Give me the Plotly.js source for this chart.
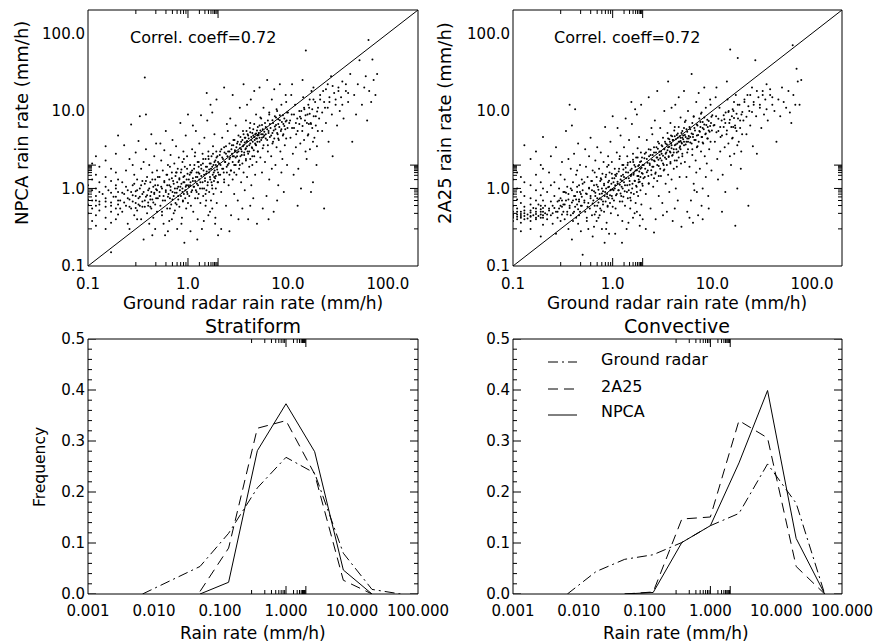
<!DOCTYPE html>
<html>
<head>
<meta charset="utf-8">
<script src="https://cdn.plot.ly/plotly-3.0.1.min.js"></script>
<style>html,body{margin:0;padding:0;background:#fff;}#chart{width:876px;height:643px;}</style>
</head>
<body>
<div id="chart"></div>
<script>
// ---------- Data ----------
// Scatter: [ground radar rain rate, NPCA rain rate] (mm/h)
const npcaPairs = [
[0.10,0.62],[0.10,0.85],[0.10,1.1],[0.10,0.48],[0.10,1.6],[0.10,0.72],
[0.11,0.55],[0.11,0.95],[0.11,1.3],[0.11,0.38],[0.11,2.1],[0.11,0.7],
[0.12,0.6],[0.12,0.8],[0.12,1.0],[0.12,1.5],[0.12,0.45],[0.12,2.6],[0.12,0.33],
[0.13,0.52],[0.13,0.9],[0.13,1.2],[0.13,0.68],[0.13,1.9],
[0.15,0.58],[0.15,0.75],[0.15,1.05],[0.15,0.42],[0.15,1.4],[0.15,2.3],[0.15,0.3],[0.15,3.5],
[0.17,0.5],[0.17,0.66],[0.17,0.88],[0.17,1.25],[0.17,1.8],[0.17,0.36],[0.17,0.15],
[0.19,0.55],[0.19,0.78],[0.19,1.1],[0.19,0.4],[0.19,2.8],[0.19,1.6],
[0.20,0.62],[0.20,0.9],[0.20,4.8],[0.20,0.46],[0.20,1.3],
[0.21,0.7],[0.22,1.2],[0.22,0.5],[0.23,0.85],[0.23,3.6],[0.24,0.6],[0.24,1.7],[0.25,0.95],[0.25,0.35],[0.26,0.72],
[0.26,2.4],[0.27,6.7],[0.27,0.55],[0.28,1.1],[0.28,0.82],[0.29,0.45],[0.29,1.5],[0.30,0.65],[0.30,2.9],[0.30,0.92],
[0.31,0.52],[0.31,1.3],[0.32,0.75],[0.32,4.1],[0.33,8.5],[0.33,0.6],[0.33,1.0],[0.34,0.4],[0.34,1.8],[0.35,0.68],
[0.35,0.85],[0.36,2.2],[0.36,0.22],[0.37,27],[0.37,0.58],[0.37,1.15],[0.38,0.78],[0.38,3.2],[0.39,0.48],[0.39,1.4],
[0.40,0.95],[0.40,0.66],[0.41,2.0],[0.41,0.35],[0.42,1.2],[0.42,0.8],[0.43,5.0],[0.43,0.55],[0.44,1.6],[0.44,0.72],
[0.45,1.05],[0.45,0.42],[0.46,2.6],[0.46,0.88],[0.47,0.62],[0.47,1.3],[0.48,3.8],[0.48,0.98],[0.49,0.5],[0.49,1.7],
[0.50,0.75],[0.50,1.1],[0.44,0.25],[0.38,9.0],[0.26,0.3],[0.31,0.4],[0.42,0.58],[0.35,1.25],[0.28,2.0],[0.47,0.3],
[0.52,0.9],[0.52,1.4],[0.53,0.6],[0.54,2.3],[0.55,1.0],[0.55,0.45],[0.56,1.7],[0.57,0.8],[0.58,3.1],[0.58,1.2],
[0.59,0.7],[0.60,0.95],[0.60,5.5],[0.61,1.5],[0.62,0.55],[0.62,1.1],[0.63,2.0],[0.64,0.85],[0.65,1.3],[0.65,0.38],
[0.66,0.75],[0.67,2.7],[0.67,1.05],[0.68,0.62],[0.69,1.6],[0.70,0.9],[0.70,4.2],[0.71,1.25],[0.72,0.48],[0.72,0.8],
[0.73,2.1],[0.74,1.0],[0.75,1.45],[0.75,0.65],[0.76,3.5],[0.77,0.88],[0.78,1.2],[0.78,0.3],[0.79,1.8],[0.80,0.72],
[0.80,1.05],[0.81,2.5],[0.82,0.58],[0.82,1.35],[0.83,0.95],[0.84,7.0],[0.85,1.6],[0.85,0.8],[0.86,1.15],[0.87,0.42],
[0.88,2.2],[0.88,1.0],[0.89,0.68],[0.90,1.4],[0.90,3.0],[0.91,0.85],[0.92,1.2],[0.92,0.2],[0.93,1.9],[0.94,0.75],
[0.95,1.05],[0.95,4.8],[0.96,0.55],[0.97,1.3],[0.98,2.6],[0.98,0.9],[0.99,1.55],[1.0,0.65],[1.0,1.1],[1.0,9.0],
[0.57,0.35],[0.63,0.28],[0.69,0.4],[0.74,0.52],[0.86,0.35],[0.53,3.8],[0.66,1.9],[0.77,1.6],[0.91,2.4],[0.59,0.25],
[1.02,1.3],[1.03,0.8],[1.05,2.0],[1.05,1.1],[1.07,0.6],[1.08,1.6],[1.1,3.2],[1.1,0.95],[1.12,1.25],[1.13,0.5],
[1.15,1.8],[1.15,1.05],[1.17,2.6],[1.18,0.75],[1.2,1.4],[1.2,5.5],[1.22,0.9],[1.23,1.15],[1.25,2.2],[1.25,0.4],
[1.27,1.6],[1.28,0.85],[1.3,1.3],[1.3,3.8],[1.32,1.0],[1.33,0.65],[1.35,2.0],[1.36,1.45],[1.38,0.3],[1.4,1.2],
[1.4,2.8],[1.42,0.8],[1.43,1.7],[1.45,1.0],[1.46,4.5],[1.48,1.35],[1.5,0.6],[1.5,2.4],[1.52,1.55],[1.53,0.95],
[1.55,1.9],[1.56,7.5],[1.58,1.2],[1.6,0.45],[1.6,3.0],[1.62,1.6],[1.63,0.9],[1.65,2.1],[1.67,1.3],[1.68,12],
[1.7,0.7],[1.7,1.8],[1.72,2.6],[1.74,1.1],[1.75,0.55],[1.77,1.5],[1.78,3.5],[1.8,2.0],[1.8,0.85],[1.82,1.25],
[1.84,5.0],[1.85,1.7],[1.87,0.35],[1.88,2.3],[1.9,1.0],[1.9,1.45],[1.92,3.0],[1.94,0.65],[1.95,1.9],[1.97,2.6],
[1.98,1.2],[2.0,0.25],[2.0,1.6],[1.06,0.28],[1.24,0.22],[1.44,0.38],[1.66,0.5],[1.88,0.42],[1.12,6.5],[1.35,8.8],
[1.54,17],[1.75,9.5],[1.93,14],[1.18,2.9],[1.41,2.1],[1.61,2.4],[1.83,1.4],[1.52,0.7],[1.28,1.9],[1.06,1.6],
[2.05,2.1],[2.1,1.5],[2.1,3.0],[2.15,0.9],[2.2,2.5],[2.2,4.5],[2.25,1.8],[2.3,1.2],[2.3,3.4],[2.35,2.2],
[2.4,0.6],[2.4,2.8],[2.45,1.6],[2.5,5.5],[2.5,2.0],[2.55,1.1],[2.6,3.0],[2.6,2.4],[2.65,8.0],[2.7,1.7],
[2.7,0.45],[2.75,3.6],[2.8,2.6],[2.8,1.3],[2.85,4.2],[2.9,2.0],[2.9,0.85],[2.95,3.1],[3.0,2.5],[3.0,6.5],
[3.05,1.5],[3.1,3.8],[3.1,2.9],[3.15,0.7],[3.2,2.2],[3.2,4.8],[3.25,1.8],[3.3,3.3],[3.3,11],[3.35,2.6],
[3.4,1.2],[3.4,4.0],[3.45,3.0],[3.5,0.55],[3.5,2.1],[3.55,5.5],[3.6,3.6],[3.6,1.6],[3.65,2.7],[3.7,4.5],
[3.7,0.95],[3.75,3.2],[3.8,7.5],[3.8,2.3],[3.85,4.0],[3.9,1.4],[3.9,3.5],[3.95,5.0],[4.0,2.8],[4.0,0.4],
[4.05,4.4],[4.1,3.0],[4.1,1.9],[4.15,6.0],[4.2,3.8],[4.2,2.4],[4.25,14],[4.3,4.6],[4.3,1.1],[4.35,3.4],
[4.4,5.2],[4.4,2.0],[4.45,4.0],[4.5,0.75],[4.5,4.8],[4.55,3.1],[4.6,6.8],[4.6,2.6],[4.65,4.2],[4.7,1.5],
[4.7,5.0],[4.75,3.7],[4.8,9.0],[4.8,4.4],[4.85,2.2],[4.9,5.6],[4.9,0.35],[4.95,4.0],[5.0,3.0],[5.0,4.8],
[2.3,20],[2.8,16],[3.6,22],[2.15,0.3],[2.6,0.28],[3.2,0.4],[4.2,0.6],[3.9,12],[2.45,6.8],[4.6,18],
[5.1,5.2],[5.2,4.0],[5.2,6.5],[5.3,2.5],[5.4,5.0],[5.4,8.0],[5.5,4.5],[5.5,1.6],[5.6,5.8],[5.7,3.6],
[5.7,11],[5.8,4.8],[5.9,2.2],[6.0,6.2],[6.0,5.0],[6.1,0.8],[6.2,4.2],[6.3,7.5],[6.3,3.0],[6.4,5.5],
[6.5,1.3],[6.5,9.0],[6.6,4.6],[6.7,6.0],[6.8,2.6],[6.9,14],[7.0,5.2],[7.0,3.8],[7.1,7.0],[7.2,0.5],
[7.3,4.4],[7.4,8.5],[7.5,5.8],[7.5,2.0],[7.6,6.6],[7.7,3.4],[7.8,10],[7.9,5.0],[8.0,7.8],[8.0,1.1],
[8.1,4.2],[8.2,6.2],[8.3,8.8],[8.4,3.0],[8.5,5.5],[8.6,12],[8.7,7.2],[8.8,2.4],[8.9,4.8],[9.0,6.8],
[9.1,0.9],[9.2,8.0],[9.3,3.6],[9.4,5.8],[9.5,16],[9.6,4.4],[9.7,7.5],[9.8,2.0],[9.9,6.0],[10,9.5],
[5.6,0.55],[6.4,0.4],[7.8,0.7],[8.6,1.6],[5.2,20],[6.2,25],[7.3,19],[8.3,22],[9.6,13],[6.9,1.8],
[10.3,7.0],[10.6,4.5],[10.9,9.0],[11.2,2.8],[11.5,6.0],[11.8,12],[12.1,5.0],[12.4,8.0],[12.7,1.8],[13.0,6.8],
[13.3,3.8],[13.6,10],[13.9,5.5],[14.2,15],[14.5,4.2],[14.8,7.5],[15.1,60],[15.4,2.4],[15.7,9.0],[16.0,5.0],
[16.3,11],[16.6,3.2],[16.9,7.0],[17.2,18],[17.5,6.0],[17.8,1.2],[18.1,8.5],[18.4,4.5],[18.7,13],[19.0,6.5],
[19.3,2.0],[19.6,9.8],[19.9,5.5],[11.0,22],[12.5,0.6],[13.5,1.0],[14.0,25],[15.0,3.0],[16.5,14],[17.0,0.9],
[18.0,20],[19.5,3.5],[10.8,16],[12.0,3.4],[14.6,10.5],[16.2,6.8],[17.8,4.0],[13.2,8.4],[15.8,4.8],[11.4,1.5],
[20.5,8.0],[21,14],[22,5.5],[22.5,18],[23,0.55],[23.5,11],[24,7.0],[25,22],[25.5,4.0],[26,13],
[27,28],[27.5,9.0],[28,2.6],[29,17],[30,12],[31,6.5],[32,20],[33,10],[34,15],[35,24],
[36,8.0],[38,18],[40,13],[42,30],[44,4.0],[46,16],[48,9.0],[50,22],[52,45],[55,12],
[58,20],[60,28],[62,7.5],[65,18],[68,13],[70,46],[72,25],[75,16],[78,30],[64,82]
];
// Dense core of the NPCA cloud, along the diagonal band
const npcaCorePairs = [
[0.12,0.7],[0.13,0.62],[0.14,0.85],[0.15,0.68],[0.16,0.95],[0.17,0.6],[0.18,0.78],[0.19,1.0],[0.2,0.7],[0.21,0.55],
[0.22,0.88],[0.23,0.66],[0.24,1.05],[0.25,0.75],[0.26,0.58],[0.27,0.9],[0.28,0.68],[0.29,1.15],[0.3,0.8],[0.3,0.56],
[0.31,0.95],[0.32,0.62],[0.33,0.78],[0.34,1.1],[0.35,0.58],[0.36,0.9],[0.37,0.7],[0.38,1.25],[0.39,0.82],[0.4,0.6],
[0.41,1.0],[0.42,0.72],[0.43,0.9],[0.44,1.3],[0.45,0.66],[0.46,0.85],[0.47,1.1],[0.48,0.75],[0.49,0.95],[0.5,1.4],
[0.52,0.8],[0.54,1.05],[0.56,0.7],[0.58,1.25],[0.6,0.9],[0.62,1.5],[0.63,0.78],[0.65,1.1],[0.67,0.95],[0.69,1.35],
[0.7,0.72],[0.72,1.15],[0.74,0.88],[0.76,1.6],[0.78,1.0],[0.8,0.8],[0.82,1.3],[0.84,1.05],[0.86,1.75],[0.88,0.9],
[0.9,1.2],[0.92,1.45],[0.94,0.95],[0.96,1.1],[0.98,1.8],[0.99,0.85],[0.55,0.5],[0.66,0.55],[0.77,0.62],[0.89,0.7],
[1.02,1.05],[1.04,1.5],[1.06,1.2],[1.08,0.9],[1.1,1.7],[1.12,1.35],[1.14,1.05],[1.16,2.0],[1.18,1.25],[1.2,0.95],
[1.22,1.6],[1.24,1.4],[1.26,1.1],[1.28,2.2],[1.3,1.55],[1.33,1.2],[1.36,1.8],[1.39,1.0],[1.42,2.4],[1.45,1.5],
[1.48,1.25],[1.51,1.9],[1.54,1.65],[1.57,1.1],[1.6,2.6],[1.63,1.75],[1.66,1.4],[1.69,2.1],[1.72,1.2],[1.75,1.9],
[1.78,2.8],[1.81,1.6],[1.84,2.2],[1.87,1.35],[1.9,2.0],[1.93,2.5],[1.96,1.75],[2.0,2.2],[2.04,1.5],[2.08,2.7],
[2.12,2.0],[2.16,3.2],[2.2,1.8],[2.24,2.4],[2.28,1.6],[2.32,2.9],[2.36,2.2],[2.4,3.5],[2.44,1.9],[2.48,2.6],
[2.52,3.0],[2.56,2.1],[2.6,3.8],[2.64,2.5],[2.68,1.7],[2.72,3.2],[2.76,2.8],[2.8,2.2],[2.84,3.6],[2.88,2.6],
[2.92,4.2],[2.96,3.0],[3.0,2.0],[1.25,0.75],[1.5,0.85],[1.75,1.0],[2.0,1.2],[2.3,1.3],[2.6,1.5],[2.9,1.6],
[3.05,3.4],[3.1,2.6],[3.15,4.0],[3.2,3.0],[3.25,2.3],[3.3,3.7],[3.35,4.6],[3.4,3.2],[3.45,2.7],[3.5,4.2],
[3.55,3.5],[3.6,5.0],[3.65,2.9],[3.7,3.9],[3.75,4.5],[3.8,3.3],[3.85,5.5],[3.9,4.1],[3.95,3.0],[4.0,4.8],
[4.1,3.6],[4.2,5.3],[4.3,4.2],[4.4,3.3],[4.5,5.8],[4.6,4.6],[4.7,3.8],[4.8,5.1],[4.9,4.4],[5.0,6.2],
[5.1,4.9],[5.2,4.5],[5.3,5.6],[5.4,4.2],[5.5,6.6],[5.6,5.0],[5.7,4.6],[5.8,5.4],[5.9,7.0],[6.0,4.4],
[6.2,5.8],[6.4,5.2],[6.6,6.8],[6.8,4.8],[7.0,7.6],[7.2,5.6],[7.4,6.3],[7.6,8.2],[7.8,5.2],[8.0,6.8],
[8.3,7.6],[8.6,5.8],[8.9,8.8],[9.2,6.4],[9.5,7.3],[9.8,9.5],[3.3,2.0],[3.8,2.4],[4.4,2.6],[5.0,3.0],
[5.6,3.3],[6.3,3.6],[7.1,4.0],[8.0,4.4],[9.0,5.0],[4.2,7.0],[5.3,8.2],[6.5,9.5],[7.7,10.5],[4.8,3.6],
[10.5,7.5],[11,6.0],[11.5,9.0],[12,7.0],[12.5,5.5],[13,10],[13.5,8.0],[14,6.4],[14.5,11],[15,8.8],
[15.5,7.0],[16,12],[16.5,9.2],[17,6.8],[17.5,10.5],[18,14],[19,8.5],[20,11],[21,16],[22,9.5],
[23,13],[24,19],[25,11],[26,15],[28,21],[30,14],[32,18],[35,12],[38,22],[40,17]
];

// Scatter: [ground radar rain rate, 2A25 rain rate] (mm/h)
const a25Pairs = [
[0.10,0.42],[0.10,0.5],[0.10,0.6],[0.10,0.85],[0.10,1.3],[0.10,0.38],[0.10,2.0],
[0.11,0.4],[0.11,0.46],[0.11,0.55],[0.11,0.72],[0.11,1.0],[0.11,1.6],
[0.12,0.36],[0.12,0.44],[0.12,0.5],[0.12,0.65],[0.12,0.9],[0.12,1.4],[0.12,0.28],
[0.13,0.4],[0.13,0.48],[0.13,0.58],[0.13,0.8],[0.13,1.2],[0.13,3.6],
[0.15,0.38],[0.15,0.44],[0.15,0.52],[0.15,0.62],[0.15,0.75],[0.15,1.1],[0.15,2.4],[0.15,0.3],
[0.17,0.4],[0.17,0.47],[0.17,0.55],[0.17,0.7],[0.17,0.95],[0.17,1.5],[0.17,3.0],
[0.19,0.42],[0.19,0.5],[0.19,0.6],[0.19,0.82],[0.19,1.2],[0.19,2.0],[0.19,0.24],
[0.20,0.45],[0.20,0.56],[0.20,0.7],[0.20,1.0],[0.20,4.6],[0.20,0.34],[0.20,1.8],
[0.21,0.48],[0.22,0.4],[0.22,0.9],[0.23,0.55],[0.23,1.6],[0.24,0.45],[0.24,2.6],[0.25,0.6],[0.25,0.35],[0.26,0.8],
[0.26,1.2],[0.27,0.5],[0.27,3.4],[0.28,0.42],[0.28,0.68],[0.29,1.0],[0.29,0.55],[0.30,0.38],[0.30,1.5],[0.30,0.75],
[0.31,0.46],[0.31,2.2],[0.32,0.62],[0.32,0.9],[0.33,0.4],[0.33,1.3],[0.34,0.7],[0.34,5.5],[0.35,0.5],[0.35,1.05],
[0.36,0.85],[0.36,0.3],[0.37,12],[0.37,0.6],[0.38,1.8],[0.38,0.45],[0.39,0.95],[0.39,0.22],[0.40,0.7],[0.40,1.2],
[0.41,0.5],[0.41,2.8],[0.42,10.5],[0.42,0.8],[0.43,0.42],[0.43,1.5],[0.44,0.62],[0.44,0.9],[0.45,3.8],[0.45,0.35],
[0.46,1.1],[0.46,0.72],[0.47,0.5],[0.47,2.0],[0.48,0.85],[0.48,0.28],[0.49,1.3],[0.49,0.6],[0.50,0.14],[0.50,0.95],
[0.27,0.26],[0.33,0.9],[0.40,0.38],[0.44,1.7],[0.36,2.4],[0.29,0.7],[0.24,1.1],[0.46,0.45],[0.31,0.58],[0.39,6.5],
[0.52,0.7],[0.52,1.2],[0.53,0.5],[0.54,1.9],[0.55,0.85],[0.55,0.38],[0.56,1.4],[0.57,0.65],[0.58,2.6],[0.58,1.0],
[0.59,0.55],[0.60,0.8],[0.60,4.5],[0.61,1.25],[0.62,0.45],[0.62,0.95],[0.63,1.7],[0.64,0.7],[0.65,1.1],[0.65,0.32],
[0.66,0.6],[0.67,2.3],[0.67,0.88],[0.68,0.5],[0.69,1.4],[0.70,0.75],[0.70,3.4],[0.71,1.05],[0.72,0.42],[0.72,0.66],
[0.73,1.8],[0.74,0.85],[0.75,1.25],[0.75,0.55],[0.76,2.9],[0.77,0.72],[0.78,1.0],[0.78,0.3],[0.79,1.55],[0.80,0.62],
[0.80,0.92],[0.81,2.2],[0.82,0.5],[0.82,1.15],[0.83,0.8],[0.84,6.2],[0.85,1.4],[0.85,0.68],[0.86,1.0],[0.87,0.36],
[0.88,1.9],[0.88,0.85],[0.89,0.58],[0.90,1.2],[0.90,2.6],[0.91,0.75],[0.92,1.05],[0.92,0.26],[0.93,1.6],[0.94,0.65],
[0.95,0.95],[0.95,4.0],[0.96,0.48],[0.97,1.15],[0.98,2.2],[0.98,0.8],[0.99,1.35],[1.0,0.58],[1.0,0.98],[1.0,8.5],
[0.57,0.3],[0.63,0.24],[0.69,0.38],[0.74,0.45],[0.86,0.3],[0.53,3.2],[0.66,1.6],[0.77,1.3],[0.91,2.0],[0.83,0.2],
[1.02,1.2],[1.03,0.7],[1.05,1.8],[1.05,1.0],[1.07,0.55],[1.08,1.45],[1.1,2.9],[1.1,0.85],[1.12,1.15],[1.13,0.45],
[1.15,1.65],[1.15,0.95],[1.17,2.4],[1.18,0.68],[1.2,1.3],[1.2,4.8],[1.22,0.8],[1.23,1.05],[1.25,2.0],[1.25,0.38],
[1.27,1.5],[1.28,0.78],[1.3,1.2],[1.3,3.4],[1.32,0.92],[1.33,0.6],[1.35,1.85],[1.36,1.35],[1.38,0.3],[1.4,1.1],
[1.4,2.6],[1.42,0.75],[1.43,1.6],[1.45,0.95],[1.46,4.2],[1.48,1.25],[1.5,0.55],[1.5,2.2],[1.52,1.45],[1.53,0.88],
[1.55,1.8],[1.56,6.8],[1.58,1.15],[1.6,0.42],[1.6,2.8],[1.62,1.5],[1.63,0.85],[1.65,2.0],[1.67,1.25],[1.68,10.5],
[1.7,0.65],[1.7,1.7],[1.72,2.5],[1.74,1.05],[1.75,0.5],[1.77,1.45],[1.78,3.3],[1.8,1.95],[1.8,0.8],[1.82,1.2],
[1.84,4.6],[1.85,1.65],[1.87,0.33],[1.88,2.2],[1.9,0.95],[1.9,1.4],[1.92,2.9],[1.94,0.62],[1.95,1.85],[1.97,2.5],
[1.98,1.15],[2.0,0.4],[2.0,1.55],[1.06,0.26],[1.24,0.2],[1.44,0.36],[1.66,0.48],[1.88,0.45],[1.12,6.0],[1.35,8.0],
[1.54,13],[1.75,9.0],[1.93,12],[1.18,2.6],[1.41,2.0],[1.61,2.2],[1.83,1.3],[1.52,0.7],[1.28,1.75],[1.06,1.5],
[2.05,2.0],[2.1,1.4],[2.1,2.8],[2.15,0.85],[2.2,2.4],[2.2,4.2],[2.25,1.7],[2.3,1.15],[2.3,3.2],[2.35,2.1],
[2.4,0.55],[2.4,2.7],[2.45,1.5],[2.5,5.0],[2.5,1.9],[2.55,1.05],[2.6,2.9],[2.6,2.3],[2.65,7.5],[2.7,1.6],
[2.7,0.4],[2.75,3.4],[2.8,2.5],[2.8,1.25],[2.85,4.0],[2.9,1.95],[2.9,0.8],[2.95,3.0],[3.0,2.45],[3.0,6.0],
[3.05,1.45],[3.1,3.6],[3.1,2.8],[3.15,0.65],[3.2,2.1],[3.2,4.5],[3.25,1.7],[3.3,3.2],[3.3,10],[3.35,2.5],
[3.4,1.15],[3.4,3.8],[3.45,2.9],[3.5,0.5],[3.5,2.0],[3.55,5.2],[3.6,3.4],[3.6,1.5],[3.65,2.6],[3.7,4.3],
[3.7,0.9],[3.75,3.0],[3.8,7.0],[3.8,2.2],[3.85,3.8],[3.9,1.3],[3.9,3.3],[3.95,4.7],[4.0,2.7],[4.0,0.38],
[4.05,4.2],[4.1,2.9],[4.1,1.8],[4.15,5.6],[4.2,3.6],[4.2,2.3],[4.25,12],[4.3,4.3],[4.3,1.0],[4.35,3.2],
[4.4,4.9],[4.4,1.9],[4.45,3.8],[4.5,0.7],[4.5,4.5],[4.55,3.0],[4.6,6.2],[4.6,2.5],[4.65,4.0],[4.7,1.4],
[4.7,4.7],[4.75,3.5],[4.8,8.2],[4.8,4.1],[4.85,2.1],[4.9,5.2],[4.9,0.32],[4.95,3.8],[5.0,2.8],[5.0,4.5],
[2.3,15],[2.8,18],[3.6,24],[2.15,0.3],[2.6,0.27],[3.2,0.45],[4.2,0.55],[3.9,11],[2.45,6.0],[4.6,15],
[5.1,4.8],[5.2,3.6],[5.2,6.0],[5.3,2.2],[5.4,4.6],[5.4,7.5],[5.5,4.0],[5.5,1.4],[5.6,5.4],[5.7,3.2],
[5.7,10],[5.8,4.4],[5.9,1.9],[6.0,5.8],[6.0,4.6],[6.1,0.7],[6.2,3.8],[6.3,7.0],[6.3,2.7],[6.4,5.0],
[6.5,1.15],[6.5,8.5],[6.6,4.2],[6.7,5.6],[6.8,2.3],[6.9,13],[7.0,4.8],[7.0,3.4],[7.1,6.5],[7.2,0.45],
[7.3,4.0],[7.4,8.0],[7.5,5.4],[7.5,1.8],[7.6,6.2],[7.7,3.0],[7.8,9.5],[7.9,4.6],[8.0,7.2],[8.0,1.0],
[8.1,3.8],[8.2,5.8],[8.3,8.2],[8.4,2.6],[8.5,5.0],[8.6,11],[8.7,6.6],[8.8,2.1],[8.9,4.4],[9.0,6.2],
[9.1,0.8],[9.2,7.4],[9.3,3.2],[9.4,5.4],[9.5,14],[9.6,4.0],[9.7,7.0],[9.8,1.7],[9.9,5.6],[10,8.8],
[5.6,0.5],[6.4,0.36],[7.8,0.6],[8.6,1.4],[5.2,18],[6.2,30],[7.3,17],[8.3,20],[9.6,12],[6.9,1.6],
[5.9,0.42],[7.0,0.9],[8.0,0.4],[9.2,0.55],[6.6,0.95],
[10.3,6.5],[10.6,4.0],[10.9,8.5],[11.2,2.4],[11.5,5.5],[11.8,11],[12.1,4.6],[12.4,7.5],[12.7,1.5],[13.0,6.2],
[13.3,3.4],[13.6,9.5],[13.9,5.0],[14.2,14],[14.5,3.8],[14.8,7.0],[15.1,62],[15.4,2.0],[15.7,8.5],[16.0,4.5],
[16.3,10],[16.6,2.8],[16.9,6.5],[17.2,16],[17.5,5.5],[17.8,1.0],[18.1,8.0],[18.4,4.0],[18.7,12],[19.0,6.0],
[19.3,1.8],[19.6,9.0],[19.9,5.0],[11.0,20],[12.5,0.5],[13.5,0.9],[14.0,24],[15.0,2.6],[16.5,13],[17.0,0.33],
[18.0,48],[19.5,3.0],[10.8,15],[12.0,3.0],[14.6,10],[16.2,6.2],[17.8,3.6],[13.2,7.8],[15.8,4.4],[11.4,1.3],
[20.5,7.5],[21,13],[22,5.0],[22.5,16],[23,0.6],[23.5,10],[24,6.5],[25,20],[25.5,3.5],[26,12],
[27,45],[27.5,8.5],[28,2.8],[29,15],[30,11],[31,6.0],[32,18],[33,9.0],[34,14],[35,22],
[36,7.5],[38,16],[40,12],[42,10],[44,4.0],[46,14],[48,8.5],[50,20],[52,13],[55,11],
[58,18],[60,9.5],[62,7.0],[65,16],[68,12],[70,35],[72,24],[75,12],[78,25],[64,70]
];
// Dense core of the 2A25 cloud
const a25CorePairs = [
[0.1,0.44],[0.1,0.46],[0.11,0.43],[0.11,0.5],[0.12,0.42],[0.12,0.47],[0.13,0.44],[0.13,0.52],[0.14,0.41],[0.14,0.46],
[0.15,0.43],[0.15,0.49],[0.16,0.45],[0.16,0.56],[0.17,0.42],[0.17,0.5],[0.18,0.44],[0.18,0.62],[0.19,0.46],[0.19,0.54],
[0.2,0.42],[0.2,0.5],[0.21,0.6],[0.22,0.46],[0.23,0.52],[0.24,0.68],[0.25,0.48],[0.26,0.56],[0.28,0.5],[0.3,0.6],
[0.31,0.7],[0.32,0.5],[0.33,0.62],[0.34,0.88],[0.35,0.46],[0.36,0.72],[0.37,0.56],[0.38,1.0],[0.39,0.66],[0.4,0.48],
[0.41,0.8],[0.42,0.58],[0.43,0.72],[0.44,1.05],[0.45,0.54],[0.46,0.68],[0.47,0.9],[0.48,0.6],[0.49,0.78],[0.5,1.15],
[0.52,0.66],[0.54,0.86],[0.56,0.58],[0.58,1.02],[0.6,0.75],[0.62,1.25],[0.63,0.64],[0.65,0.92],[0.67,0.8],[0.69,1.12],
[0.7,0.6],[0.72,0.96],[0.74,0.74],[0.76,1.35],[0.78,0.86],[0.8,0.68],[0.82,1.1],[0.84,0.9],[0.86,1.5],[0.88,0.78],
[0.9,1.04],[0.92,1.26],[0.94,0.82],[0.96,0.96],[0.98,1.55],[0.99,0.74],[0.55,0.42],[0.66,0.46],[0.77,0.52],[0.89,0.6],
[1.02,0.95],[1.04,1.35],[1.06,1.1],[1.08,0.82],[1.1,1.55],[1.12,1.22],[1.14,0.95],[1.16,1.8],[1.18,1.12],[1.2,0.86],
[1.22,1.45],[1.24,1.26],[1.26,1.0],[1.28,2.0],[1.3,1.4],[1.33,1.1],[1.36,1.62],[1.39,0.9],[1.42,2.15],[1.45,1.35],
[1.48,1.12],[1.51,1.72],[1.54,1.5],[1.57,1.0],[1.6,2.35],[1.63,1.58],[1.66,1.26],[1.69,1.9],[1.72,1.08],[1.75,1.72],
[1.78,2.5],[1.81,1.45],[1.84,2.0],[1.87,1.22],[1.9,1.8],[1.93,2.25],[1.96,1.58],[2.0,2.0],[2.04,1.35],[2.08,2.45],
[2.12,1.8],[2.16,2.9],[2.2,1.62],[2.24,2.15],[2.28,1.45],[2.32,2.6],[2.36,2.0],[2.4,3.15],[2.44,1.72],[2.48,2.35],
[2.52,2.7],[2.56,1.9],[2.6,3.4],[2.64,2.25],[2.68,1.55],[2.72,2.9],[2.76,2.5],[2.8,2.0],[2.84,3.25],[2.88,2.35],
[2.92,3.8],[2.96,2.7],[3.0,1.8],[1.25,0.68],[1.5,0.76],[1.75,0.9],[2.0,1.08],[2.3,1.17],[2.6,1.35],[2.9,1.45],
[3.05,3.0],[3.1,2.3],[3.15,3.5],[3.2,2.65],[3.25,2.0],[3.3,3.25],[3.35,4.0],[3.4,2.8],[3.45,2.4],[3.5,3.7],
[3.55,3.1],[3.6,4.4],[3.65,2.55],[3.7,3.45],[3.75,4.0],[3.8,2.9],[3.85,4.8],[3.9,3.6],[3.95,2.65],[4.0,4.2],
[4.1,3.2],[4.2,4.7],[4.3,3.7],[4.4,2.9],[4.5,5.1],[4.6,4.0],[4.7,3.35],[4.8,4.5],[4.9,3.9],[5.0,5.5],
[5.1,4.3],[5.2,4.0],[5.3,4.9],[5.4,3.7],[5.5,5.8],[5.6,4.4],[5.7,4.0],[5.8,4.75],[5.9,6.2],[6.0,3.9],
[6.2,5.1],[6.4,4.6],[6.6,6.0],[6.8,4.2],[7.0,6.7],[7.2,4.9],[7.4,5.5],[7.6,7.2],[7.8,4.6],[8.0,6.0],
[8.3,6.7],[8.6,5.1],[8.9,7.7],[9.2,5.6],[9.5,6.4],[9.8,8.4],[3.3,1.75],[3.8,2.1],[4.4,2.3],[5.0,2.6],
[5.6,2.9],[6.3,3.2],[7.1,3.5],[8.0,3.9],[9.0,4.4],[4.2,6.2],[5.3,7.2],[6.5,8.4],[7.7,9.2],[4.8,3.2],
[10.5,6.6],[11,5.3],[11.5,7.9],[12,6.2],[12.5,4.8],[13,8.8],[13.5,7.0],[14,5.6],[14.5,9.7],[15,7.7],
[15.5,6.2],[16,10.5],[16.5,8.1],[17,6.0],[17.5,9.2],[18,12],[19,7.5],[20,9.7],[21,14],[22,8.4],
[23,11.5],[24,16],[25,9.7],[26,13],[28,18],[30,12],[32,16],[35,10.5],[38,19],[40,15]
];

const oneToOne = [0.1, 200];

// Frequency distributions (bin centres in mm/h)
const binCenters = [0.0067, 0.0183, 0.0498, 0.135, 0.368, 1.0, 2.718, 7.39, 20.1, 54.6];
const stratGround = [0.0, 0.027, 0.054, 0.119, 0.208, 0.268, 0.237, 0.080, 0.009, 0.0];
const strat2A25   = [null, null, 0.005, 0.090, 0.325, 0.340, 0.235, 0.027, 0.0, null];
const stratNPCA   = [null, null, 0.0, 0.023, 0.281, 0.373, 0.279, 0.047, 0.0, null];
const convGround  = [0.0, 0.044, 0.068, 0.077, 0.101, 0.134, 0.158, 0.255, 0.178, 0.0];
const conv2A25    = [null, null, 0.0, 0.004, 0.147, 0.151, 0.340, 0.306, 0.054, 0.0];
const convNPCA    = [null, null, 0.0, 0.003, 0.101, 0.134, 0.257, 0.399, 0.109, 0.0];

const legendNames = ["Ground radar", "2A25", "NPCA"];

// Tick labels
const scatterTickVals = [0.1, 1, 10, 100];
const scatterTickText = ["0.1", "1.0", "10.0", "100.0"];
const freqXTickVals = [0.001, 0.01, 0.1, 1, 10, 100];
const freqXTickText = ["0.001", "0.010", "0.100", "1.000", "10.000", "100.000"];
const freqYTickVals = [0, 0.1, 0.2, 0.3, 0.4, 0.5];
const freqYTickText = ["0.0", "0.1", "0.2", "0.3", "0.4", "0.5"];

// ---------- Chart ----------
const W = 876, H = 643;
const FONT = "DejaVu Sans, Liberation Sans, sans-serif";
const px = v => v / W;
const py = v => 1 - v / H;

const DASH = "10px,6px";
const DASHDOT = "10px,4px,2px,4px";
const MAJ = 8, MIN = 4;

function minorLog(d0, d1, maxV) {
  const out = [];
  for (let d = d0; d < d1; d++) for (let k = 2; k <= 9; k++) { const v = k * Math.pow(10, d); if (v < maxV) out.push(v); }
  return out;
}
function minorLin() {
  const out = [];
  for (let i = 1; i < 25; i++) if (i % 5 !== 0) out.push(i / 50);
  return out;
}

function axisBase(type, domain, range, anchor, tv, tt) {
  return {
    type: type, domain: domain, range: range, anchor: anchor, autorange: false,
    tickmode: 'array', tickvals: tv, ticktext: tt, ticks: '',
    showline: false, showgrid: false, zeroline: false,
    tickfont: {size: 15, color: 'black', family: FONT}
  };
}

// Frame and inward ticks on all four sides of a panel, placed through the panel's own axes
function panelShapes(xa, ya, xLog, yLog, xMaj, xMin, yMaj, yMin, wPx, hPx) {
  const out = [];
  const ln = {color: 'black', width: 1};
  const cx = v => xLog ? Math.log10(v) : v;
  const cy = v => yLog ? Math.log10(v) : v;
  const xt = (vals, L) => vals.forEach(v => {
    out.push({type: 'line', xref: xa, yref: ya + ' domain', x0: cx(v), x1: cx(v), y0: 0, y1: L / hPx, line: ln});
    out.push({type: 'line', xref: xa, yref: ya + ' domain', x0: cx(v), x1: cx(v), y0: 1, y1: 1 - L / hPx, line: ln});
  });
  const yt = (vals, L) => vals.forEach(v => {
    out.push({type: 'line', xref: xa + ' domain', yref: ya, x0: 0, x1: L / wPx, y0: cy(v), y1: cy(v), line: ln});
    out.push({type: 'line', xref: xa + ' domain', yref: ya, x0: 1, x1: 1 - L / wPx, y0: cy(v), y1: cy(v), line: ln});
  });
  xt(xMaj, MAJ); xt(xMin, MIN); yt(yMaj, MAJ); yt(yMin, MIN);
  out.push({type: 'rect', xref: xa + ' domain', yref: ya + ' domain', x0: 0, x1: 1, y0: 0, y1: 1,
            line: ln, fillcolor: 'rgba(0,0,0,0)'});
  return out;
}

const dxL = [px(88), px(418)];
const dxR = [px(513), px(842)];
const dyT = [py(266), py(10)];
const dyB = [py(594), py(339)];
const sRange = [-1, Math.log10(200)];

const npcaAll = npcaPairs.concat(npcaCorePairs);
const a25All = a25Pairs.concat(a25CorePairs);

const traces = [
  {x: npcaAll.map(p => p[0]), y: npcaAll.map(p => p[1]), type: 'scatter', mode: 'markers',
   xaxis: 'x', yaxis: 'y', marker: {size: 2, color: 'black'}, hoverinfo: 'skip'},
  {x: oneToOne, y: oneToOne, type: 'scatter', mode: 'lines', xaxis: 'x', yaxis: 'y',
   line: {color: 'black', width: 1}},
  {x: a25All.map(p => p[0]), y: a25All.map(p => p[1]), type: 'scatter', mode: 'markers',
   xaxis: 'x2', yaxis: 'y2', marker: {size: 2, color: 'black'}, hoverinfo: 'skip'},
  {x: oneToOne, y: oneToOne, type: 'scatter', mode: 'lines', xaxis: 'x2', yaxis: 'y2',
   line: {color: 'black', width: 1}},
  {x: binCenters, y: stratGround, name: legendNames[0], type: 'scatter', mode: 'lines', xaxis: 'x3', yaxis: 'y3',
   line: {color: 'black', width: 1, dash: DASHDOT}},
  {x: binCenters, y: strat2A25, name: legendNames[1], type: 'scatter', mode: 'lines', xaxis: 'x3', yaxis: 'y3',
   line: {color: 'black', width: 1, dash: DASH}},
  {x: binCenters, y: stratNPCA, name: legendNames[2], type: 'scatter', mode: 'lines', xaxis: 'x3', yaxis: 'y3',
   line: {color: 'black', width: 1}},
  {x: binCenters, y: convGround, name: legendNames[0], type: 'scatter', mode: 'lines', xaxis: 'x4', yaxis: 'y4',
   line: {color: 'black', width: 1, dash: DASHDOT}},
  {x: binCenters, y: conv2A25, name: legendNames[1], type: 'scatter', mode: 'lines', xaxis: 'x4', yaxis: 'y4',
   line: {color: 'black', width: 1, dash: DASH}},
  {x: binCenters, y: convNPCA, name: legendNames[2], type: 'scatter', mode: 'lines', xaxis: 'x4', yaxis: 'y4',
   line: {color: 'black', width: 1}}
];

function ann(text, x, y, size, opts) {
  return Object.assign({text: text, x: px(x), y: py(y), xref: 'paper', yref: 'paper', showarrow: false,
    xanchor: 'center', yanchor: 'middle', font: {size: size, color: 'black', family: FONT}}, opts || {});
}

const annotations = [
  ann("Correl. coeff=0.72", 128, 37, 16, {xanchor: 'left'}),
  ann("Correl. coeff=0.72", 552, 37, 16, {xanchor: 'left'}),
  ann("Ground radar rain rate (mm/h)", 253, 303, 17),
  ann("Ground radar rain rate (mm/h)", 677, 303, 17),
  ann("NPCA rain rate (mm/h)", 21, 123, 18, {textangle: -90}),
  ann("2A25 rain rate (mm/h)", 444, 123, 18, {textangle: -90}),
  ann("Stratiform", 253, 326, 19),
  ann("Convective", 677, 326, 19),
  ann("Frequency", 40, 467, 15.5, {textangle: -90}),
  ann("Rain rate (mm/h)", 253, 633, 17),
  ann("Rain rate (mm/h)", 676, 633, 17),
  ann(legendNames[0], 599, 359, 16, {xanchor: 'left'}),
  ann(legendNames[1], 599, 386, 16, {xanchor: 'left'}),
  ann(legendNames[2], 599, 411, 16, {xanchor: 'left'})
];

const sMinor = minorLog(-1, 3, 200);
const fMinor = minorLog(-3, 2, 100);
let shapes = [];
shapes = shapes.concat(panelShapes('x', 'y', true, true, scatterTickVals, sMinor, scatterTickVals, sMinor, 330, 256));
shapes = shapes.concat(panelShapes('x2', 'y2', true, true, scatterTickVals, sMinor, scatterTickVals, sMinor, 329, 256));
shapes = shapes.concat(panelShapes('x3', 'y3', true, false, freqXTickVals, fMinor, freqYTickVals, minorLin(), 330, 255));
shapes = shapes.concat(panelShapes('x4', 'y4', true, false, freqXTickVals, fMinor, freqYTickVals, minorLin(), 329, 255));
// legend line samples
shapes.push({type: 'line', xref: 'paper', yref: 'paper', x0: px(548), x1: px(577), y0: py(362), y1: py(362), line: {color: 'black', width: 1, dash: DASHDOT}});
shapes.push({type: 'line', xref: 'paper', yref: 'paper', x0: px(548), x1: px(577), y0: py(389), y1: py(389), line: {color: 'black', width: 1, dash: DASH}});
shapes.push({type: 'line', xref: 'paper', yref: 'paper', x0: px(548), x1: px(577), y0: py(415), y1: py(415), line: {color: 'black', width: 1}});

const layout = {
  width: W, height: H, margin: {l: 0, r: 0, t: 0, b: 0},
  paper_bgcolor: 'white', plot_bgcolor: 'white', showlegend: false,
  font: {family: FONT, color: 'black'},
  xaxis:  axisBase('log', dxL, sRange, 'y',  scatterTickVals, scatterTickText),
  yaxis:  axisBase('log', dyT, sRange, 'x',  scatterTickVals, scatterTickText),
  xaxis2: axisBase('log', dxR, sRange, 'y2', scatterTickVals, scatterTickText),
  yaxis2: axisBase('log', dyT, sRange, 'x2', scatterTickVals, scatterTickText),
  xaxis3: axisBase('log', dxL, [-3, 2], 'y3', freqXTickVals, freqXTickText),
  yaxis3: axisBase('linear', dyB, [0, 0.5], 'x3', freqYTickVals, freqYTickText),
  xaxis4: axisBase('log', dxR, [-3, 2], 'y4', freqXTickVals, freqXTickText),
  yaxis4: axisBase('linear', dyB, [0, 0.5], 'x4', freqYTickVals, freqYTickText),
  annotations: annotations,
  shapes: shapes
};
['xaxis', 'xaxis2'].forEach(k => { layout[k].ticklabelstandoff = 7; });
['xaxis3', 'xaxis4'].forEach(k => { layout[k].ticklabelstandoff = 6; });
['yaxis', 'yaxis2', 'yaxis3', 'yaxis4'].forEach(k => { layout[k].ticklabelstandoff = 2; });

Plotly.newPlot('chart', traces, layout, {displayModeBar: false});
</script>
</body>
</html>
